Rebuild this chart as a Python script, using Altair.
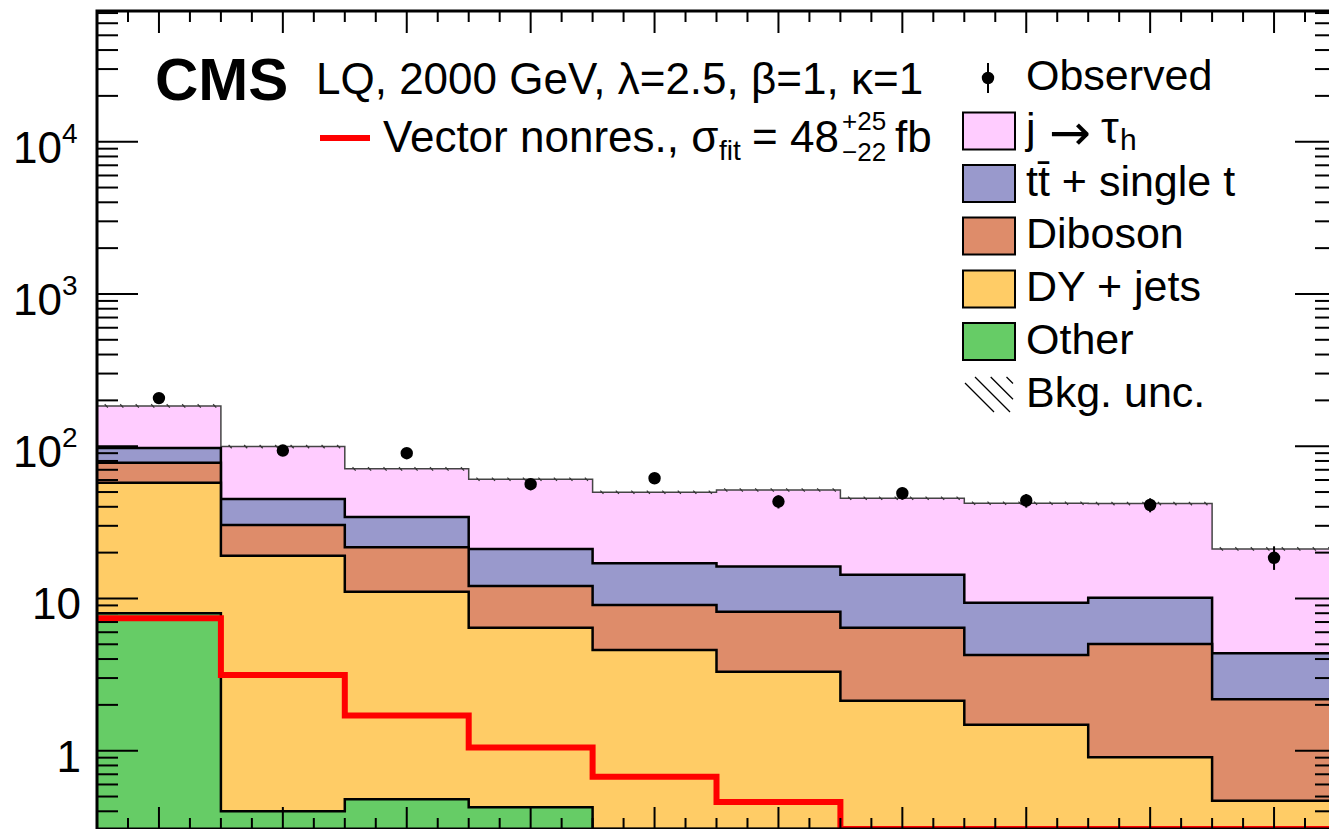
import altair as alt
import pandas as pd

# ---------------- data ----------------
bin_edges = [0, 1, 2, 3, 4, 5, 6, 7, 8, 9, 10]
bin_centers = [0.5, 1.5, 2.5, 3.5, 4.5, 5.5, 6.5, 7.5, 8.5, 9.5]

jtau    = [86.5, 54.4, 36.7, 39.6, 32.9, 35.4, 31.2, 32.8, 31.9, 16.8]
ttbar   = [19.5, 14.6, 12.6, 9.0, 7.94, 8.0, 7.87, 5.13, 5.08, 2.18]
diboson = [20.4, 11.3, 10.6, 5.67, 4.47, 4.89, 4.30, 2.77, 4.12, 1.71]
dyjets  = [49.6, 18.7, 10.6, 6.0, 4.59, 3.30, 2.13, 1.48, 0.905, 0.47]
other   = [8.0, 0.40, 0.48, 0.425, 0.0, 0.0, 0.0, 0.0, 0.0, 0.0]
signal  = [7.4, 3.14, 1.70, 1.05, 0.675, 0.46, 0.2, 0.12, 0.08, 0.05]
observed = [207, 93.6, 90, 56.3, 61.6, 43.3, 49.1, 44.0, 41.1, 18.5]
obs_lo   = [196, 87, 83, 51.5, 56.5, 39.0, 44.5, 39.5, 36.8, 15.4]
obs_hi   = [218, 100, 97, 61.0, 66.5, 47.5, 53.5, 48.5, 45.5, 22.0]
bkg_unc  = [0.025, 0.025, 0.025, 0.025, 0.025, 0.025, 0.025, 0.025, 0.025, 0.025]

y_major = [1, 10, 100, 1000, 10000]
y_exp_ticks = [100, 1000, 10000]
y_exp_base = ["10", "10", "10"]
y_exp_power = ["2", "3", "4"]
y_plain_ticks = [1, 10]
y_plain_text = ["1", "10"]

legend_labels = ["j", "tt\u0304 + single t", "Diboson", "DY + jets", "Other"]
legend_colors = ["#ffccff", "#9999cc", "#de8c6a", "#ffcc66", "#66cc66"]

# ---------------- layout ----------------
FONT = "Liberation Sans"
W, H = 1239, 818
X0, Y0 = 97, 11          # page position of plot origin
def px(x): return x - X0
def py(y): return y - Y0

xs = alt.Scale(domain=[0, 10], nice=False, zero=False)
ys = alt.Scale(type="log", domain=[0.306, 72200], nice=False, clamp=True)
one = pd.DataFrame({"k": [0]})

def step_df(vals):
    v = [max(a, 1e-3) for a in vals]
    return pd.DataFrame({"x": bin_edges, "y": v + [v[-1]]})

layers = []

comps = [("other", other), ("dy", dyjets), ("dib", diboson), ("tt", ttbar), ("jtau", jtau)]
cols = {"other": "#66cc66", "dy": "#ffcc66", "dib": "#de8c6a", "tt": "#9999cc", "jtau": "#ffccff"}
running = [0.0] * 10
cums = {}
for name, vals in comps:
    running = [r + v for r, v in zip(running, vals)]
    cums[name] = list(running)

for name in ["jtau", "tt", "dib", "dy", "other"]:
    d = step_df(cums[name])
    layers.append(alt.Chart(d).mark_area(interpolate="step-after", color=cols[name], opacity=1).encode(
        x=alt.X("x:Q", scale=xs, axis=None),
        y=alt.Y("y:Q", scale=ys, axis=None),
        y2=alt.value(H)))
    if name == "jtau":
        layers.append(alt.Chart(d).mark_line(interpolate="step-after", color="#444444", strokeWidth=1.5).encode(
            x=alt.X("x:Q", scale=xs, axis=None), y=alt.Y("y:Q", scale=ys, axis=None)))
    else:
        layers.append(alt.Chart(d).mark_line(interpolate="step-after", color="black", strokeWidth=2.5).encode(
            x=alt.X("x:Q", scale=xs, axis=None), y=alt.Y("y:Q", scale=ys, axis=None)))

# background uncertainty hatching on the total
total = cums["jtau"]
hx, hx2, hy, hy2 = [], [], [], []
for i in range(10):
    for k in range(8):
        xx = i + (k + 0.5) / 8
        hx.append(xx); hx2.append(xx + 0.025)
        hy.append(total[i] * (1 + bkg_unc[i])); hy2.append(total[i] * (1 - bkg_unc[i]))
hatch = pd.DataFrame({"x": hx, "x2": hx2, "y": hy, "y2": hy2})
layers.append(alt.Chart(hatch).mark_rule(color="#333333", strokeWidth=1.2).encode(
    x=alt.X("x:Q", scale=xs, axis=None), x2="x2:Q",
    y=alt.Y("y:Q", scale=ys, axis=None), y2="y2:Q"))

# signal
layers.append(alt.Chart(step_df(signal)).mark_line(interpolate="step-after", color="#ff0000", strokeWidth=6).encode(
    x=alt.X("x:Q", scale=xs, axis=None), y=alt.Y("y:Q", scale=ys, axis=None)))

# observed
obs = pd.DataFrame({"x": bin_centers, "y": observed, "lo": obs_lo, "hi": obs_hi})
layers.append(alt.Chart(obs).mark_rule(color="black", strokeWidth=2).encode(
    x=alt.X("x:Q", scale=xs, axis=None), y=alt.Y("lo:Q", scale=ys, axis=None), y2="hi:Q"))
layers.append(alt.Chart(obs).mark_circle(color="black", opacity=1, size=154).encode(
    x=alt.X("x:Q", scale=xs, axis=None), y=alt.Y("y:Q", scale=ys, axis=None)))

# ---------------- frame and ticks ----------------
minor_y = []
for e in [0.1, 1, 10, 100, 1000, 10000]:
    for m in range(2, 10):
        v = m * e
        if 0.306 <= v <= 72200:
            minor_y.append(v)
ymaj = pd.DataFrame({"v": y_major})
ymin = pd.DataFrame({"v": minor_y})
for dfv, ln in [(ymaj, 41), (ymin, 21)]:
    layers.append(alt.Chart(dfv).mark_rule(color="black", strokeWidth=2).encode(
        y=alt.Y("v:Q", scale=ys, axis=None), x=alt.value(0), x2=alt.value(ln)))
    layers.append(alt.Chart(dfv).mark_rule(color="black", strokeWidth=2).encode(
        y=alt.Y("v:Q", scale=ys, axis=None), x=alt.value(W - ln), x2=alt.value(W)))

xmaj = pd.DataFrame({"v": bin_centers})
xmin = pd.DataFrame({"v": [i + f for i in range(10) for f in (0.0, 0.25, 0.75)]})
for dfv, ln in [(xmaj, 22), (xmin, 11)]:
    layers.append(alt.Chart(dfv).mark_rule(color="black", strokeWidth=2).encode(
        x=alt.X("v:Q", scale=xs, axis=None), y=alt.value(0), y2=alt.value(ln)))
    layers.append(alt.Chart(dfv).mark_rule(color="black", strokeWidth=2).encode(
        x=alt.X("v:Q", scale=xs, axis=None), y=alt.value(H - ln), y2=alt.value(H)))

layers.append(alt.Chart(one).mark_rect(fillOpacity=0, stroke="black", strokeWidth=3).encode(
    x=alt.value(0), x2=alt.value(W), y=alt.value(0), y2=alt.value(H)))

# y labels
ye = pd.DataFrame({"v": y_exp_ticks, "b": y_exp_base, "p": y_exp_power})
layers.append(alt.Chart(ye).mark_text(font=FONT, fontSize=44, align="right", baseline="alphabetic", dy=21).encode(
    y=alt.Y("v:Q", scale=ys, axis=None), x=alt.value(px(62)), text="b:N"))
layers.append(alt.Chart(ye).mark_text(font=FONT, fontSize=28, align="left", baseline="alphabetic", dy=1).encode(
    y=alt.Y("v:Q", scale=ys, axis=None), x=alt.value(px(62)), text="p:N"))
yp = pd.DataFrame({"v": y_plain_ticks, "t": y_plain_text})
layers.append(alt.Chart(yp).mark_text(font=FONT, fontSize=44, align="right", baseline="alphabetic", dy=21).encode(
    y=alt.Y("v:Q", scale=ys, axis=None), x=alt.value(px(81)), text="t:N"))

# ---------------- annotations ----------------
def txt(s, x, y, size=44, bold=False, align="left", color="black", font=FONT):
    return alt.Chart(one).mark_text(text=s, font=font, fontSize=size, fontWeight="bold" if bold else "normal",
                                    align=align, baseline="alphabetic", color=color).encode(
        x=alt.value(px(x)), y=alt.value(py(y)))

layers.append(txt("CMS", 155, 100, size=60, bold=True))
layers.append(txt("LQ, 2000 GeV, \u03bb=2.5, \u03b2=1, \u03ba=1", 316, 94))
layers.append(alt.Chart(one).mark_rule(color="#ff0000", strokeWidth=6).encode(
    x=alt.value(px(320)), x2=alt.value(px(370)), y=alt.value(py(138))))
layers.append(txt("Vector nonres., \u03c3", 383, 152))
layers.append(txt("fit", 719, 160, size=28))
layers.append(txt("= 48", 752, 152))
layers.append(txt("+25", 842, 130, size=26))
layers.append(txt("\u221222", 842, 161, size=26))
layers.append(txt("fb", 895, 152))

# legend
LX0, LX1 = 963, 1015
LTX = 1026
rows = [78, 131, 183.5, 236, 289, 341.5, 394.5]
layers.append(alt.Chart(one).mark_rule(color="black", strokeWidth=2).encode(
    x=alt.value(px(988)), y=alt.value(py(63)), y2=alt.value(py(93))))
layers.append(alt.Chart(one).mark_circle(color="black", opacity=1, size=154).encode(
    x=alt.value(px(988)), y=alt.value(py(78))))
layers.append(txt("Observed", LTX, rows[0] + 12, size=43))
for i, (lab, colr) in enumerate(zip(legend_labels, legend_colors)):
    cy = rows[i + 1]
    layers.append(alt.Chart(one).mark_rect(fill=colr, stroke="black", strokeWidth=2).encode(
        x=alt.value(px(LX0)), x2=alt.value(px(LX1)), y=alt.value(py(cy - 18.5)), y2=alt.value(py(cy + 18.5))))
    layers.append(txt(lab, LTX, cy + 12, size=43))
layers.append(txt("\u2192", 1049, rows[1] + 19, size=50, font="DejaVu Sans"))
layers.append(txt("\u03c4", 1101, rows[1] + 12, size=45))
layers.append(txt("h", 1120, rows[1] + 19, size=30))

# legend hatch for Bkg. unc.
bx0, by0, bw, bh = 965, 377, 48, 35
for d in [-6, 10, 25.7, 41.5]:
    t0 = max(0, -d)
    t1 = min(bw - d, bh)
    layers.append(alt.Chart(one).mark_rule(color="black", strokeWidth=1.3).encode(
        x=alt.value(px(bx0 + d + t0)), x2=alt.value(px(bx0 + d + t1)),
        y=alt.value(py(by0 + t0)), y2=alt.value(py(by0 + t1))))
layers.append(txt("Bkg. unc.", LTX, rows[6] + 12, size=43))

chart = alt.layer(*layers).properties(
    width=W, height=H,
    padding={"left": X0 - 8, "top": Y0 - 8, "right": -7, "bottom": 0},
    autosize=alt.AutoSizeParams(type="none"),
).configure_view(stroke=None).configure(background="white")

chart.save("out.html", embed_options={"renderer": "svg", "actions": False})
